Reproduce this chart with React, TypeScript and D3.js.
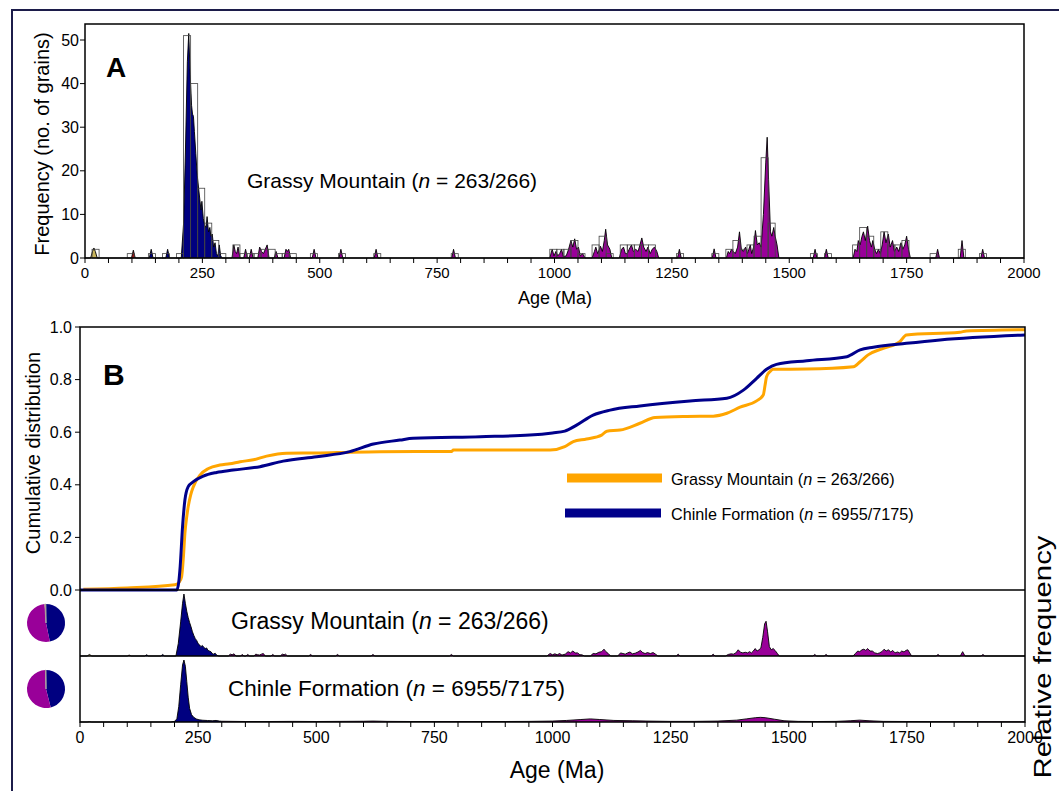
import React from 'react';
import * as d3 from 'd3';

const W = 1059;
const H = 791;
const font = '"Liberation Sans", Arial, sans-serif';

// age bands used to colour the probability curves and pies
const bandEdges = [0, 66, 120, 300, 2000];
const bandColors = ['#c8b45a', '#a31515', '#000080', '#990099'];

// panel A histogram, 15 Ma bins: [bin start, count]
const binWidth = 15;
const histBins: [number, number][] = [
  [15, 2], [90, 1], [135, 1], [165, 1], [195, 1], [210, 51], [225, 40], [240, 16], [255, 8],
  [270, 4], [285, 1], [315, 3], [330, 1], [345, 1], [360, 1], [375, 2], [390, 2], [405, 1],
  [420, 1], [435, 1], [480, 1], [540, 1], [615, 1], [780, 1], [990, 2], [1005, 2], [1020, 2],
  [1035, 4], [1050, 1], [1080, 3], [1095, 5], [1110, 1], [1140, 3], [1155, 3], [1170, 3],
  [1185, 3], [1200, 3], [1260, 1], [1335, 1], [1365, 2], [1380, 4], [1395, 2], [1410, 3],
  [1425, 5], [1440, 23], [1455, 8], [1545, 1], [1575, 1], [1635, 3], [1650, 7], [1665, 5],
  [1680, 2], [1695, 6], [1710, 3], [1725, 3], [1740, 4], [1800, 1], [1860, 2], [1905, 1],
];

// panel A probability density plot (scaled to grain counts): [age, value]
const pdpGrassy: [number, number][] = [
  [0, 0], [12, 0], [16, 1.5], [19, 2.3], [22, 1.5], [26, 0],
  [99, 0], [103, 1.8], [107, 0],
  [137, 0], [141, 2], [145, 0], [172, 0], [176, 2], [180, 0],
  [205, 0], [210, 8], [214, 25], [218, 45], [221, 51.5], [224, 42], [227, 35], [229, 33],
  [231, 32.5], [233, 29], [236, 24], [239, 19], [242, 16], [245, 13], [247, 11], [249, 13],
  [252, 9], [255, 7.5], [258, 7], [260, 9.5], [263, 6], [266, 7], [268, 5], [271, 5.5],
  [274, 2.5], [277, 3.5], [280, 1], [283, 0.5], [286, 3], [289, 0.5], [292, 0],
  [313, 0], [317, 3], [320, 1.5], [323, 1], [326, 2.5], [330, 0],
  [338, 0], [342, 2], [346, 0], [350, 0], [354, 2], [358, 0],
  [368, 0], [372, 2.5], [376, 1.5], [380, 1], [384, 2], [388, 3], [392, 0],
  [403, 0], [407, 1.5], [411, 0], [424, 0], [428, 2], [431, 1.5], [434, 2], [438, 0],
  [484, 0], [488, 2], [492, 0], [541, 0], [545, 2], [549, 0], [616, 0], [620, 2], [624, 0],
  [781, 0], [785, 2], [789, 0],
  [990, 0], [995, 2], [999, 0.5], [1003, 1.5], [1007, 0.5], [1011, 1], [1015, 2], [1019, 0.3],
  [1025, 0.5], [1030, 2], [1035, 4], [1039, 2.5], [1043, 4.4], [1047, 2], [1051, 2.5],
  [1055, 0.5], [1060, 1], [1065, 0],
  [1080, 0], [1085, 1.5], [1088, 2.5], [1092, 1], [1098, 2.7], [1102, 1.5], [1106, 4],
  [1109, 6.6], [1113, 3], [1118, 2], [1122, 0],
  [1138, 0], [1143, 2], [1147, 2.5], [1151, 1], [1155, 1], [1159, 2], [1164, 3], [1168, 1.5],
  [1173, 2], [1178, 1.5], [1182, 3], [1186, 4.6], [1190, 2.5], [1195, 1.5], [1199, 2.5],
  [1204, 1], [1208, 2], [1213, 2.5], [1218, 1.5], [1222, 0],
  [1262, 0], [1266, 2], [1270, 0], [1336, 0], [1340, 2.1], [1344, 0],
  [1366, 0], [1370, 1.5], [1373, 1], [1377, 2], [1381, 1.5], [1385, 1], [1390, 2.5], [1394, 6],
  [1398, 2], [1402, 1.5], [1407, 2.5], [1411, 1], [1414, 2], [1417, 3], [1420, 1], [1424, 2.5],
  [1428, 6.3], [1432, 3], [1436, 3.5], [1440, 2.5], [1445, 10], [1450, 22], [1453, 27.7],
  [1456, 18], [1460, 6], [1463, 5], [1467, 7], [1470, 5], [1474, 3], [1478, 0],
  [1551, 0], [1555, 2], [1559, 0], [1575, 0], [1579, 2], [1583, 0],
  [1636, 0], [1640, 2], [1644, 1.5], [1647, 4], [1651, 3], [1655, 5], [1658, 6], [1662, 4],
  [1667, 7.3], [1671, 4], [1675, 2.5], [1678, 4], [1682, 2], [1686, 1], [1690, 2], [1694, 1],
  [1698, 3], [1702, 6], [1706, 3.5], [1711, 5.5], [1715, 2.5], [1720, 4], [1724, 1.5],
  [1729, 2.5], [1733, 1.5], [1738, 3.5], [1742, 2], [1746, 3], [1750, 5], [1754, 2], [1758, 0],
  [1812, 0], [1816, 2], [1820, 0], [1864, 0], [1868, 4], [1872, 0], [1908, 0], [1912, 2],
  [1916, 0], [2000, 0],
];

// panel B cumulative distributions: [age, fraction]
const cdfGrassy: [number, number][] = [
  [7, 0.003], [100, 0.008], [201, 0.02], [210, 0.03], [215, 0.05], [219, 0.13], [222, 0.215],
  [226, 0.28], [229, 0.317], [234, 0.36], [240, 0.393], [254, 0.437], [272, 0.462],
  [296, 0.475], [317, 0.48], [339, 0.488], [367, 0.495], [395, 0.509], [437, 0.52],
  [508, 0.521], [571, 0.524], [635, 0.526], [787, 0.527], [790, 0.532], [995, 0.532],
  [1026, 0.545], [1044, 0.564], [1072, 0.574], [1104, 0.589], [1115, 0.604], [1143, 0.608],
  [1185, 0.634], [1217, 0.656], [1284, 0.66], [1340, 0.661], [1369, 0.672], [1397, 0.695],
  [1432, 0.719], [1446, 0.741], [1450, 0.78], [1453, 0.811], [1460, 0.83], [1467, 0.839],
  [1538, 0.84], [1637, 0.849], [1651, 0.868], [1668, 0.894], [1700, 0.919], [1735, 0.944],
  [1749, 0.97], [1862, 0.98], [1876, 0.985], [2000, 0.99],
];
const cdfChinle: [number, number][] = [
  [0, 0], [205, 0], [209, 0.03], [212, 0.089], [217, 0.24], [222, 0.342], [229, 0.393],
  [240, 0.412], [261, 0.433], [289, 0.447], [324, 0.456], [381, 0.469], [430, 0.49],
  [501, 0.507], [571, 0.526], [621, 0.555], [677, 0.57], [705, 0.577], [847, 0.583],
  [952, 0.589], [1000, 0.597], [1026, 0.604], [1051, 0.627], [1086, 0.665], [1122, 0.684],
  [1185, 0.7], [1291, 0.719], [1369, 0.729], [1404, 0.76], [1432, 0.805], [1453, 0.839],
  [1474, 0.858], [1538, 0.872], [1623, 0.887], [1651, 0.913], [1679, 0.923], [1749, 0.938],
  [1820, 0.951], [2000, 0.97],
];

// panel B relative probability (peak = 1): [age, value]
const kdeGrassy: [number, number][] = [
  [0, 0], [15, 0], [20, 0.025], [25, 0], [100, 0], [104, 0.015], [108, 0],
  [137, 0], [141, 0.02], [145, 0], [171, 0], [175, 0.025], [179, 0],
  [203, 0], [208, 0.2], [213, 0.55], [217, 0.85], [220, 1.0], [223, 0.85], [226, 0.72],
  [229, 0.62], [232, 0.54], [235, 0.47], [238, 0.39], [241, 0.33], [244, 0.28], [247, 0.25],
  [250, 0.2], [253, 0.18], [256, 0.15], [259, 0.17], [262, 0.14], [265, 0.12], [268, 0.13],
  [271, 0.09], [274, 0.08], [277, 0.07], [280, 0.04], [283, 0.03], [286, 0.045], [290, 0.01],
  [294, 0],
  [314, 0], [318, 0.03], [322, 0.02], [326, 0.035], [330, 0], [340, 0], [343, 0.025], [347, 0],
  [351, 0], [355, 0.025], [359, 0], [368, 0], [372, 0.03], [376, 0.02], [380, 0.015],
  [384, 0.03], [388, 0.04], [392, 0], [404, 0], [408, 0.025], [412, 0], [424, 0], [428, 0.03],
  [432, 0.02], [435, 0.03], [439, 0], [484, 0], [488, 0.025], [492, 0], [541, 0], [545, 0.025],
  [549, 0], [616, 0], [620, 0.025], [624, 0], [782, 0], [786, 0.025], [790, 0],
  [988, 0], [995, 0.04], [1000, 0.02], [1005, 0.035], [1010, 0.02], [1015, 0.04], [1020, 0.015],
  [1027, 0.03], [1033, 0.07], [1038, 0.05], [1043, 0.08], [1048, 0.05], [1053, 0.05],
  [1058, 0.02], [1062, 0.02], [1068, 0], [1080, 0], [1086, 0.04], [1092, 0.035], [1098, 0.06],
  [1104, 0.07], [1109, 0.11], [1113, 0.07], [1118, 0.04], [1123, 0], [1138, 0], [1144, 0.05],
  [1149, 0.04], [1154, 0.03], [1159, 0.05], [1164, 0.065], [1169, 0.035], [1175, 0.045],
  [1181, 0.065], [1186, 0.09], [1191, 0.055], [1196, 0.04], [1201, 0.055], [1207, 0.04],
  [1213, 0.055], [1218, 0.03], [1223, 0], [1262, 0], [1266, 0.03], [1270, 0], [1336, 0],
  [1340, 0.03], [1344, 0], [1366, 0], [1372, 0.025], [1378, 0.035], [1383, 0.03], [1388, 0.05],
  [1393, 0.1], [1398, 0.06], [1403, 0.05], [1408, 0.06], [1413, 0.05], [1417, 0.07],
  [1421, 0.05], [1425, 0.08], [1429, 0.12], [1433, 0.08], [1437, 0.1], [1441, 0.13],
  [1445, 0.3], [1449, 0.52], [1452, 0.56], [1455, 0.4], [1459, 0.15], [1463, 0.1],
  [1467, 0.12], [1471, 0.09], [1476, 0.04], [1480, 0], [1551, 0], [1555, 0.025], [1559, 0],
  [1575, 0], [1579, 0.025], [1583, 0], [1636, 0], [1641, 0.04], [1646, 0.08], [1650, 0.07],
  [1655, 0.1], [1659, 0.11], [1663, 0.09], [1667, 0.12], [1672, 0.08], [1677, 0.08],
  [1682, 0.05], [1688, 0.04], [1692, 0.05], [1697, 0.07], [1702, 0.11], [1706, 0.08],
  [1711, 0.1], [1716, 0.065], [1720, 0.09], [1725, 0.05], [1730, 0.065], [1735, 0.05],
  [1739, 0.08], [1744, 0.065], [1748, 0.09], [1752, 0.1], [1756, 0.05], [1760, 0],
  [1812, 0], [1816, 0.025], [1820, 0], [1863, 0], [1868, 0.07], [1873, 0], [1907, 0],
  [1911, 0.025], [1915, 0], [2000, 0],
];
const kdeChinle: [number, number][] = [
  [0, 0], [15, 0], [20, 0.005], [25, 0], [192, 0], [200, 0.01], [205, 0.05], [209, 0.25],
  [213, 0.6], [217, 0.92], [220, 1.0], [223, 0.9], [226, 0.65], [229, 0.4], [232, 0.22],
  [236, 0.12], [240, 0.08], [246, 0.05], [252, 0.035], [260, 0.028], [270, 0.024],
  [280, 0.02], [288, 0.025], [295, 0.015], [300, 0.012], [350, 0.008], [400, 0.008],
  [450, 0.01], [500, 0.008], [550, 0.01], [600, 0.012], [620, 0.015], [650, 0.01],
  [700, 0.008], [800, 0.007], [900, 0.008], [950, 0.01], [1000, 0.015], [1030, 0.025],
  [1060, 0.04], [1080, 0.05], [1100, 0.04], [1130, 0.025], [1170, 0.02], [1200, 0.015],
  [1250, 0.01], [1300, 0.01], [1350, 0.015], [1390, 0.03], [1410, 0.05], [1430, 0.07],
  [1440, 0.075], [1450, 0.07], [1470, 0.045], [1490, 0.02], [1520, 0.01], [1560, 0.008],
  [1600, 0.01], [1630, 0.02], [1650, 0.03], [1670, 0.02], [1700, 0.01], [1750, 0.008],
  [1800, 0.006], [1900, 0.005], [2000, 0.003],
];

// pie charts: grains per age band (order: 120-300, >300, 0-66, 66-120)
const pieGrassy = [
  { band: 2, value: 123 }, { band: 3, value: 137 }, { band: 0, value: 2 }, { band: 1, value: 1 },
];
const pieChinle = [
  { band: 2, value: 3200 }, { band: 3, value: 3720 }, { band: 0, value: 20 }, { band: 1, value: 15 },
];

const minorTicks = d3.range(0, 2001, 50);
const ageLabels = [0, 250, 500, 750, 1000, 1250, 1500, 1750, 2000];
const freqTicks = [0, 10, 20, 30, 40, 50];
const cdfTicks = [0, 0.2, 0.4, 0.6, 0.8, 1.0];

const xA = d3.scaleLinear().domain([0, 2000]).range([85, 1024]);
const yA = d3.scaleLinear().domain([0, 50]).range([258, 40]);
const xB = d3.scaleLinear().domain([0, 2000]).range([80, 1025]);
const yC = d3.scaleLinear().domain([0, 1]).range([590, 327]);
const yK1 = d3.scaleLinear().domain([0, 1]).range([656, 594]);
const yK2 = d3.scaleLinear().domain([0, 1]).range([722, 660]);

type Pt = [number, number];
type Sc = d3.ScaleLinear<number, number>;

function BandedCurve({ id, data, x, y, top }: { id: string; data: Pt[]; x: Sc; y: Sc; top: number }) {
  const area = d3.area<Pt>().x(d => x(d[0])).y0(y(0)).y1(d => y(d[1]));
  const line = d3.line<Pt>().x(d => x(d[0])).y(d => y(d[1]));
  const d = area(data) || '';
  return (
    <g>
      <defs>
        {bandColors.map((c, i) => (
          <clipPath id={`${id}-b${i}`} key={i}>
            <rect x={x(bandEdges[i])} y={top} width={x(bandEdges[i + 1]) - x(bandEdges[i])} height={y(0) - top} />
          </clipPath>
        ))}
      </defs>
      {bandColors.map((c, i) => (
        <path key={i} d={d} fill={c} clipPath={`url(#${id}-b${i})`} />
      ))}
      <path d={line(data) || ''} fill="none" stroke="#000" strokeWidth={0.9} strokeLinejoin="round" />
    </g>
  );
}

function Pie({ cx, cy, r, data }: { cx: number; cy: number; r: number; data: { band: number; value: number }[] }) {
  const arcs = d3.pie<{ band: number; value: number }>().sort(null).value(d => d.value)(data);
  const arc = d3.arc<d3.PieArcDatum<{ band: number; value: number }>>().innerRadius(0).outerRadius(r);
  return (
    <g transform={`translate(${cx},${cy})`}>
      {arcs.map((a, i) => (
        <path key={i} d={arc(a) || ''} fill={bandColors[a.data.band]} stroke={a.data.band < 2 ? '#aaa' : 'none'} strokeWidth={0.6} />
      ))}
    </g>
  );
}

function Label({ x, y, size, pre, post, anchor = 'start' }: { x: number; y: number; size: number; pre: string; post: string; anchor?: string }) {
  return (
    <text x={x} y={y} fontSize={size} fontFamily={font} textAnchor={anchor as any} fill="#000">
      {pre}
      <tspan fontStyle="italic">n</tspan>
      {post}
    </text>
  );
}

export default function App() {
  const cdfLine = d3.line<Pt>().x(d => xB(d[0])).y(d => yC(d[1])).curve(d3.curveMonotoneX);
  const y0A = yA(0);
  return (
    <svg width={W} height={H} style={{ position: 'absolute', left: 0, top: 0, background: '#fff' }}>
      <rect x={12} y={10} width={1100} height={900} fill="none" stroke="#1c1c4a" strokeWidth={2} />

      {/* ---------- panel A ---------- */}
      {histBins.map(([b, c], i) => (
        <rect key={i} x={xA(b)} y={yA(c)} width={xA(b + binWidth) - xA(b)} height={y0A - yA(c)} fill="#fff" />
      ))}
      <BandedCurve id="pdpA" data={pdpGrassy} x={xA} y={yA} top={24} />
      {histBins.map(([b, c], i) => (
        <rect key={i} x={xA(b)} y={yA(c)} width={xA(b + binWidth) - xA(b)} height={y0A - yA(c)} fill="none" stroke="#444" strokeWidth={0.8} />
      ))}
      <rect x={85} y={24} width={1024 - 85} height={y0A - 24} fill="none" stroke="#000" strokeWidth={1.5} />
      {minorTicks.map(t => (
        <line key={t} x1={xA(t)} x2={xA(t)} y1={y0A} y2={y0A + 5} stroke="#000" strokeWidth={1} />
      ))}
      {ageLabels.map(t => (
        <text key={t} x={xA(t)} y={278} fontSize={15} fontFamily={font} textAnchor="middle">{t}</text>
      ))}
      {freqTicks.map(t => (
        <g key={t}>
          <line x1={80} x2={85} y1={yA(t)} y2={yA(t)} stroke="#000" />
          <text x={79} y={yA(t) + 5.5} fontSize={16} fontFamily={font} textAnchor="end">{t}</text>
        </g>
      ))}
      <text transform="translate(49,144) rotate(-90)" fontSize={20} fontFamily={font} textAnchor="middle">Frequency (no. of grains)</text>
      <text x={555} y={304} fontSize={18} fontFamily={font} textAnchor="middle">Age (Ma)</text>
      <text x={106} y={77} fontSize={28} fontWeight="bold" fontFamily={font}>A</text>
      <Label x={247} y={188} size={21} pre="Grassy Mountain (" post=" = 263/266)" />

      {/* ---------- panel B: cumulative ---------- */}
      <path d={cdfLine(cdfGrassy) || ''} fill="none" stroke="#ffa500" strokeWidth={3} />
      <path d={cdfLine(cdfChinle) || ''} fill="none" stroke="#00008b" strokeWidth={3} />
      {cdfTicks.map(t => (
        <g key={t}>
          <line x1={75} x2={80} y1={yC(t)} y2={yC(t)} stroke="#000" />
          <text x={72} y={yC(t) + 5.5} fontSize={16} fontFamily={font} textAnchor="end">{t.toFixed(1)}</text>
        </g>
      ))}
      <text transform="translate(40,453) rotate(-90)" fontSize={20} fontFamily={font} textAnchor="middle">Cumulative distribution</text>
      <text x={103} y={385} fontSize={30} fontWeight="bold" fontFamily={font}>B</text>
      <line x1={567} x2={662} y1={478} y2={478} stroke="#ffa500" strokeWidth={9} />
      <line x1={565} x2={661} y1={513} y2={513} stroke="#00008b" strokeWidth={9} />
      <Label x={671} y={485} size={16.2} pre="Grassy Mountain (" post=" = 263/266)" />
      <Label x={671} y={520} size={16.2} pre="Chinle Formation (" post=" = 6955/7175)" />

      {/* ---------- panel B: relative probability ---------- */}
      <BandedCurve id="kdeG" data={kdeGrassy} x={xB} y={yK1} top={590} />
      <BandedCurve id="kdeC" data={kdeChinle} x={xB} y={yK2} top={656} />
      <Label x={231} y={629} size={23} pre="Grassy Mountain (" post=" = 263/266)" />
      <Label x={228} y={696} size={22.5} pre="Chinle Formation (" post=" = 6955/7175)" />
      <Pie cx={46} cy={623} r={19} data={pieGrassy} />
      <Pie cx={46} cy={689} r={19} data={pieChinle} />

      <rect x={80} y={327} width={1025 - 80} height={722 - 327} fill="none" stroke="#000" strokeWidth={1.5} />
      <line x1={80} x2={1025} y1={590} y2={590} stroke="#000" strokeWidth={1.5} />
      <line x1={80} x2={1025} y1={656} y2={656} stroke="#000" strokeWidth={1.5} />
      {minorTicks.map(t => (
        <line key={t} x1={xB(t)} x2={xB(t)} y1={722} y2={727} stroke="#000" strokeWidth={1} />
      ))}
      {ageLabels.map(t => (
        <text key={t} x={xB(t)} y={743} fontSize={16} fontFamily={font} textAnchor="middle">{t}</text>
      ))}
      <text x={557} y={778} fontSize={23} fontFamily={font} textAnchor="middle">Age (Ma)</text>
      <text transform="translate(1051,657) rotate(-90)" fontSize={23} fontFamily={font} textAnchor="middle"
        textLength={243} lengthAdjust="spacingAndGlyphs">Relative frequency</text>
    </svg>
  );
}
